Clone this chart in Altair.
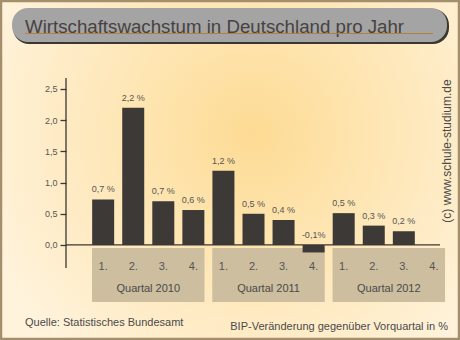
import altair as alt
import pandas as pd

# ---- data ----
quarters = ["1.", "2.", "3.", "4.", "1.", "2.", "3.", "4.", "1.", "2.", "3.", "4."]
years = ["2010"] * 4 + ["2011"] * 4 + ["2012"] * 4
values = [0.73, 2.2, 0.7, 0.56, 1.19, 0.5, 0.4, -0.12, 0.51, 0.31, 0.22, None]
value_labels = ["0,7 %", "2,2 %", "0,7 %", "0,6 %", "1,2 %", "0,5 %", "0,4 %", "-0,1%",
                "0,5 %", "0,3 %", "0,2 %", ""]
group_names = ["Quartal 2010", "Quartal 2011", "Quartal 2012"]
group_first = [0, 4, 8]
group_last = [3, 7, 11]
y_ticks = [0, 0.5, 1.0, 1.5, 2.0, 2.5]

df = pd.DataFrame({
    "idx": list(range(len(quarters))),
    "quarter": quarters,
    "year": years,
    "value": values,
    "label": value_labels,
})
groups = pd.DataFrame({"name": group_names, "first": group_first, "last": group_last})
one = pd.DataFrame({"a": [0]})

W, H = 394, 262
FONT = "Liberation Sans"

xs = alt.Scale(domain=[-1.0697, 11.702], nice=False, zero=False)
ys = alt.Scale(domain=[-1.523, 2.676], nice=False, zero=False)

# ---- decorations ----
bg = alt.Chart(one).mark_rect(
    fill={"gradient": "radial", "x1": 0.55, "y1": 0.42, "r1": 0, "x2": 0.55, "y2": 0.42, "r2": 0.62,
          "stops": [{"offset": 0, "color": "#fddb94"}, {"offset": 1, "color": "#fff3dc"}]}
).encode(x=alt.value(-66), x2=alt.value(394), y=alt.value(-78), y2=alt.value(262))

frame = alt.Chart(one).mark_rect(fill="transparent", stroke="#a48e6c", strokeWidth=2.5).encode(
    x=alt.value(-65), x2=alt.value(393), y=alt.value(-77), y2=alt.value(261))

title_shadow = alt.Chart(one).mark_rect(fill="#3a3733", cornerRadius=16).encode(
    x=alt.value(-53), x2=alt.value(383), y=alt.value(-69), y2=alt.value(-34))
title_box = alt.Chart(one).mark_rect(fill="#a4a4a4", cornerRadius=16).encode(
    x=alt.value(-54), x2=alt.value(381), y=alt.value(-70), y2=alt.value(-36))
title_text = alt.Chart(one).mark_text(
    text="Wirtschaftswachstum in Deutschland pro Jahr", font=FONT, fontSize=18.7,
    color="#474240", align="left", baseline="alphabetic").encode(x=alt.value(-41), y=alt.value(-45.5))
title_line = alt.Chart(one).mark_rule(color="#b3803c", strokeWidth=1.2).encode(
    x=alt.value(-41), x2=alt.value(367), y=alt.value(-44.5))

copyright_text = alt.Chart(one).mark_text(
    text="(c) www.schule-studium.de", font=FONT, fontSize=12, color="#4a4a4a",
    angle=270, align="center", baseline="middle").encode(x=alt.value(381), y=alt.value(73))

source_text = alt.Chart(one).mark_text(
    text="Quelle: Statistisches Bundesamt", font=FONT, fontSize=11, color="#4a4a4a",
    align="left", baseline="middle").encode(x=alt.value(-41), y=alt.value(245))
unit_text = alt.Chart(one).mark_text(
    text="BIP-Veränderung gegenüber Vorquartal in %", font=FONT, fontSize=11, color="#4a4a4a",
    align="right", baseline="middle").encode(x=alt.value(382), y=alt.value(249))

# ---- group boxes ----
boxes = alt.Chart(groups).transform_calculate(
    x0="datum.first - 0.37", x1="datum.last + 0.37"
).mark_rect(fill="#ccbe9f").encode(
    x=alt.X("x0:Q", scale=xs, axis=None), x2="x1:Q",
    y=alt.value(170), y2=alt.value(224))

group_labels = alt.Chart(groups).transform_calculate(
    xm="(datum.first + datum.last) / 2"
).mark_text(font=FONT, fontSize=11, color="#4a4a4a", baseline="middle").encode(
    x=alt.X("xm:Q", scale=xs, axis=None), y=alt.value(211), text="name:N")

quarter_labels = alt.Chart(df).mark_text(
    font=FONT, fontSize=11, color="#555555", baseline="middle").encode(
    x=alt.X("idx:Q", scale=xs, axis=None), y=alt.value(189), text="quarter:N")

# ---- axis line ----
y_axis_line = alt.Chart(one).mark_rule(color="#3a3733", strokeWidth=1.3).encode(
    x=alt.value(0), y=alt.value(0), y2=alt.value(190))

y_axis = alt.Axis(
    values=y_ticks, title=None, domain=False, grid=False, tickSize=6,
    tickColor="#3a3733", tickWidth=1.3, labelColor="#555555", labelFontSize=9,
    labelFont=FONT, labelPadding=3, zindex=2,
    labelExpr="replace(format(datum.value, '.1f'), '.', ',')")

bars = alt.Chart(df).transform_filter("datum.value != null").mark_bar(
    width=22, color="#3c3936").encode(
    x=alt.X("idx:Q", scale=xs, axis=None),
    y=alt.Y("value:Q", scale=ys, axis=y_axis),
    y2=alt.datum(0))

zero_line = alt.Chart(one).mark_rule(color="#3a3733", strokeWidth=1.3).encode(
    y=alt.datum(0, scale=ys), x=alt.value(0), x2=alt.value(374))

bar_labels = alt.Chart(df).transform_filter("datum.value != null").transform_calculate(
    ypos="max(datum.value, 0)"
).mark_text(font=FONT, fontSize=9, color="#555555", baseline="bottom", dy=-5).encode(
    x=alt.X("idx:Q", scale=xs, axis=None),
    y=alt.Y("ypos:Q", scale=ys, axis=y_axis),
    text="label:N")

chart = alt.layer(
    bg, frame, title_shadow, title_box, title_text, title_line, copyright_text,
    source_text, unit_text, boxes, group_labels, quarter_labels,
    bars, y_axis_line, zero_line, bar_labels
).properties(
    width=W, height=H,
    autosize=alt.AutoSizeParams(type="none"),
    padding={"left": 66, "top": 78, "right": 0, "bottom": 0},
    background="#fff3dc",
).configure_view(stroke=None)

chart.save("out.html", embed_options={"renderer": "svg", "actions": False})
